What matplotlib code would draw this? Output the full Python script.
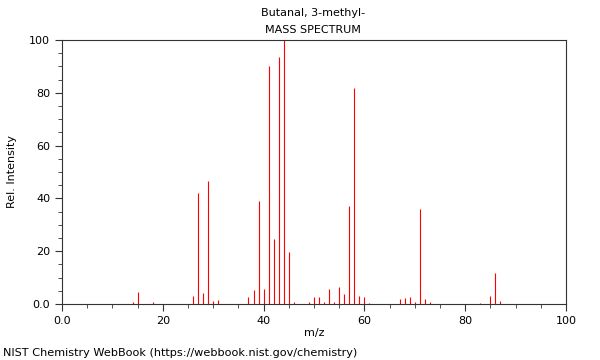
import matplotlib
matplotlib.use("Agg")
import matplotlib.pyplot as plt
from matplotlib.ticker import MultipleLocator

# peaks
mz = [14, 15, 18, 26, 27, 28, 29, 30, 31, 37, 38, 39, 40, 41, 42, 43, 44, 45, 46,
      49, 50, 51, 52, 53, 54, 55, 56, 57, 58, 59, 60, 61,
      67, 68, 69, 70, 71, 72, 73, 83, 85, 86, 87]
intensity = [0.6, 4.4, 0.6, 3.0, 42.0, 4.2, 46.6, 1.1, 1.5, 2.5, 5.2, 38.9, 5.8, 90.2, 24.7, 93.6, 100.0, 19.7, 0.8,
             0.8, 2.7, 2.7, 0.8, 5.8, 0.8, 6.4, 3.7, 37.1, 81.7, 3.1, 2.8, 0.4,
             2.0, 2.4, 2.7, 0.7, 36.1, 1.9, 0.6, 0.5, 3.0, 11.9, 1.3]

xticks = [0, 20, 40, 60, 80, 100]
xtick_labels = ["0.0", "20", "40", "60", "80", "100"]
yticks = [0, 20, 40, 60, 80, 100]
ytick_labels = ["0.0", "20", "40", "60", "80", "100"]

fig = plt.figure(figsize=(6, 3.6), dpi=100)
ax = fig.add_axes([62 / 600, 1 - 304 / 360, 504 / 600, 264 / 360])

ax.vlines(mz, 0, intensity, color="#ff0000", linewidth=0.8)

ax.set_xlim(0, 100)
ax.set_ylim(0, 100)
ax.set_xticks(xticks)
ax.set_xticklabels(xtick_labels)
ax.set_yticks(yticks)
ax.set_yticklabels(ytick_labels)
ax.xaxis.set_minor_locator(MultipleLocator(5))
ax.yaxis.set_minor_locator(MultipleLocator(5))
ax.tick_params(which="major", length=5, width=0.8, labelsize=8, colors="#333333", labelcolor="black")
ax.tick_params(which="minor", length=3, width=0.6, colors="#333333")
for s in ax.spines.values():
    s.set_color("#333333")
    s.set_linewidth(0.8)

ax.set_xlabel("m/z", fontsize=8)
ax.set_ylabel("Rel. Intensity", fontsize=8)
# pull the labels to where the reference has them
ax.yaxis.set_label_coords(-(62 - 17) / 504, 0.5)
ax.xaxis.set_label_coords(0.5, -(328 - 304) / 264)

fig.text(0.5 + 1 / 600 * 13, 1 - 13 / 360, "Butanal, 3-methyl-", ha="center", va="center", fontsize=8)
fig.text(0.5 + 1 / 600 * 13, 1 - 30 / 360, "MASS SPECTRUM", ha="center", va="center", fontsize=8)
fig.text(3 / 600, 1 - 353 / 360, "NIST Chemistry WebBook (https://webbook.nist.gov/chemistry)",
         ha="left", va="center", fontsize=8.1)

fig.savefig("out.png", dpi=100)
